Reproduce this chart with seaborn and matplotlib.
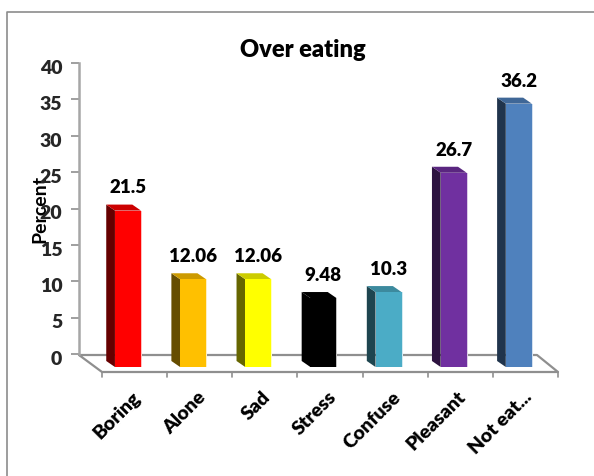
import matplotlib
matplotlib.use("Agg")
import matplotlib.pyplot as plt
import matplotlib.transforms as mtrans
from matplotlib.colors import to_rgb
from matplotlib.patches import Polygon
import seaborn as sns
import pandas as pd

categories = ["Boring", "Alone", "Sad", "Stress", "Confuse", "Pleasant", "Not eat..."]
values = [21.5, 12.06, 12.06, 9.48, 10.3, 26.7, 36.2]
value_labels = ["21.5", "12.06", "12.06", "9.48", "10.3", "26.7", "36.2"]
bar_colors = ["#ff0000", "#ffc000", "#ffff00", "#000000", "#4bacc6", "#7030a0", "#4f81bd"]
y_ticks = [0, 5, 10, 15, 20, 25, 30, 35, 40]

W, H = 594, 477
GRAY = "#8f8f8f"
DEPTH_X, DEPTH_Y = 8.7, 6.0  # bar depth, in pixels
WEIGHT = "heavy"


def shade(color, factor):
    return tuple(c * factor for c in to_rgb(color))


def tint(color, amount):
    return tuple(c + (1 - c) * amount for c in to_rgb(color))


def rect(x0, y_top, x1, y_bottom):
    """Axes rectangle from pixel edges, with y measured from the top."""
    return [x0 / W, 1 - y_bottom / H, (x1 - x0) / W, (y_bottom - y_top) / H]


sns.set_theme(style="white")
plt.rcParams["font.family"] = ["Lato", "DejaVu Sans"]

fig = plt.figure(figsize=(W / 100, H / 100), dpi=100, facecolor="white")

# Full-figure layer in pixel units: chart frame and the floor of the 3D box
canvas = fig.add_axes([0, 0, 1, 1], zorder=0)
canvas.set_xlim(0, W)
canvas.set_ylim(H, 0)
canvas.axis("off")
canvas.plot([7, 7, W], [H, 13, 13], color="#8c8c8c", lw=1.2)
canvas.plot([79, 537, 558, 102, 79], [356, 356, 373, 373, 356], color=GRAY, lw=1.6)
for i in range(len(categories) + 1):
    tick_x = 102 + i * (558 - 102) / len(categories)
    canvas.plot([tick_x, tick_x], [373, 378], color=GRAY, lw=1.2)
canvas.text(303, 50, "Over eating", ha="center", va="center", fontsize=17,
            fontweight=WEIGHT, color="black")
canvas.text(40, 209, "Percent", rotation=90, ha="center", va="center", fontsize=14,
            fontweight="bold", color="black")

# Back wall carrying the value scale
wall = fig.add_axes(rect(79, 64, 537, 355), zorder=1)
wall.patch.set_alpha(0)
wall.set_ylim(0, 40)
wall.set_xticks([])
wall.set_yticks(y_ticks)
wall.tick_params(axis="y", length=6, width=1.2, color=GRAY, pad=6, labelsize=14, left=True)
drop = mtrans.ScaledTranslation(0, -2 / 72, fig.dpi_scale_trans)
for label in wall.get_yticklabels():
    label.set_fontweight(WEIGHT)
    label.set_transform(label.get_transform() + drop)
for name, spine in wall.spines.items():
    spine.set_visible(name == "left")
wall.spines["left"].set_color("#a6a6a6")
wall.spines["left"].set_linewidth(1.8)

# Front plane holding the bars
front = fig.add_axes(rect(95.4, 77, 551.4, 368), zorder=2)
front.patch.set_alpha(0)
data = pd.DataFrame({"category": categories, "value": values})
sns.barplot(
    data=data, x="category", y="value", hue="category", hue_order=categories,
    palette=bar_colors, saturation=1, width=0.4, legend=False, ax=front, zorder=3,
    linewidth=0,
)
front.set_xlim(-0.5, len(categories) - 0.5)
front.set_ylim(0, 40)
front.set_xlabel("")
front.set_ylabel("")
front.set_yticks([])
for spine in front.spines.values():
    spine.set_visible(False)

# Side and top faces extruded back from each bar, using pixel offsets
origin = front.transData
pixels = mtrans.IdentityTransform()
for patch, color, text in list(zip(front.patches, bar_colors, value_labels)):
    x0, x1 = patch.get_x(), patch.get_x() + patch.get_width()
    top = patch.get_height()
    (px0, py0), (px1, py1) = origin.transform([(x0, 0), (x1, top)])
    side = Polygon(
        [(px0, py0), (px0, py1), (px0 - DEPTH_X, py1 + DEPTH_Y), (px0 - DEPTH_X, py0 + DEPTH_Y)],
        closed=True, transform=pixels, facecolor=shade(color, 0.4), edgecolor="none", zorder=2,
    )
    lid = Polygon(
        [(px0, py1), (px1, py1), (px1 - DEPTH_X, py1 + DEPTH_Y), (px0 - DEPTH_X, py1 + DEPTH_Y)],
        closed=True, transform=pixels, facecolor=shade(color, 0.8), edgecolor="none", zorder=2,
    )
    # faint pale rim down the lit edge of the front face
    rim = Polygon(
        [(px1, py0), (px1, py1), (px1 + 1.0, py1), (px1 + 1.0, py0)],
        closed=True, transform=pixels, facecolor=tint(color, 0.75), edgecolor="none", zorder=2,
    )
    front.add_patch(side)
    front.add_patch(lid)
    front.add_patch(rim)
    front.annotate(
        text, xy=((x0 + x1) / 2, top), xytext=(0, 17), textcoords="offset points",
        ha="center", va="center", fontsize=13.5, fontweight=WEIGHT, color="black",
    )

# Slanted category labels hanging under the floor
front.set_xticks(range(len(categories)))
front.set_xticklabels(categories, rotation=45, ha="right", va="center",
                      rotation_mode="anchor", fontsize=14, fontweight=WEIGHT, color="black")
front.tick_params(axis="x", length=0, pad=19)
shift = mtrans.ScaledTranslation(7 / 72, 0, fig.dpi_scale_trans)
for label in front.get_xticklabels():
    label.set_transform(label.get_transform() + shift)

fig.savefig("out.png", dpi=100, facecolor="white")
